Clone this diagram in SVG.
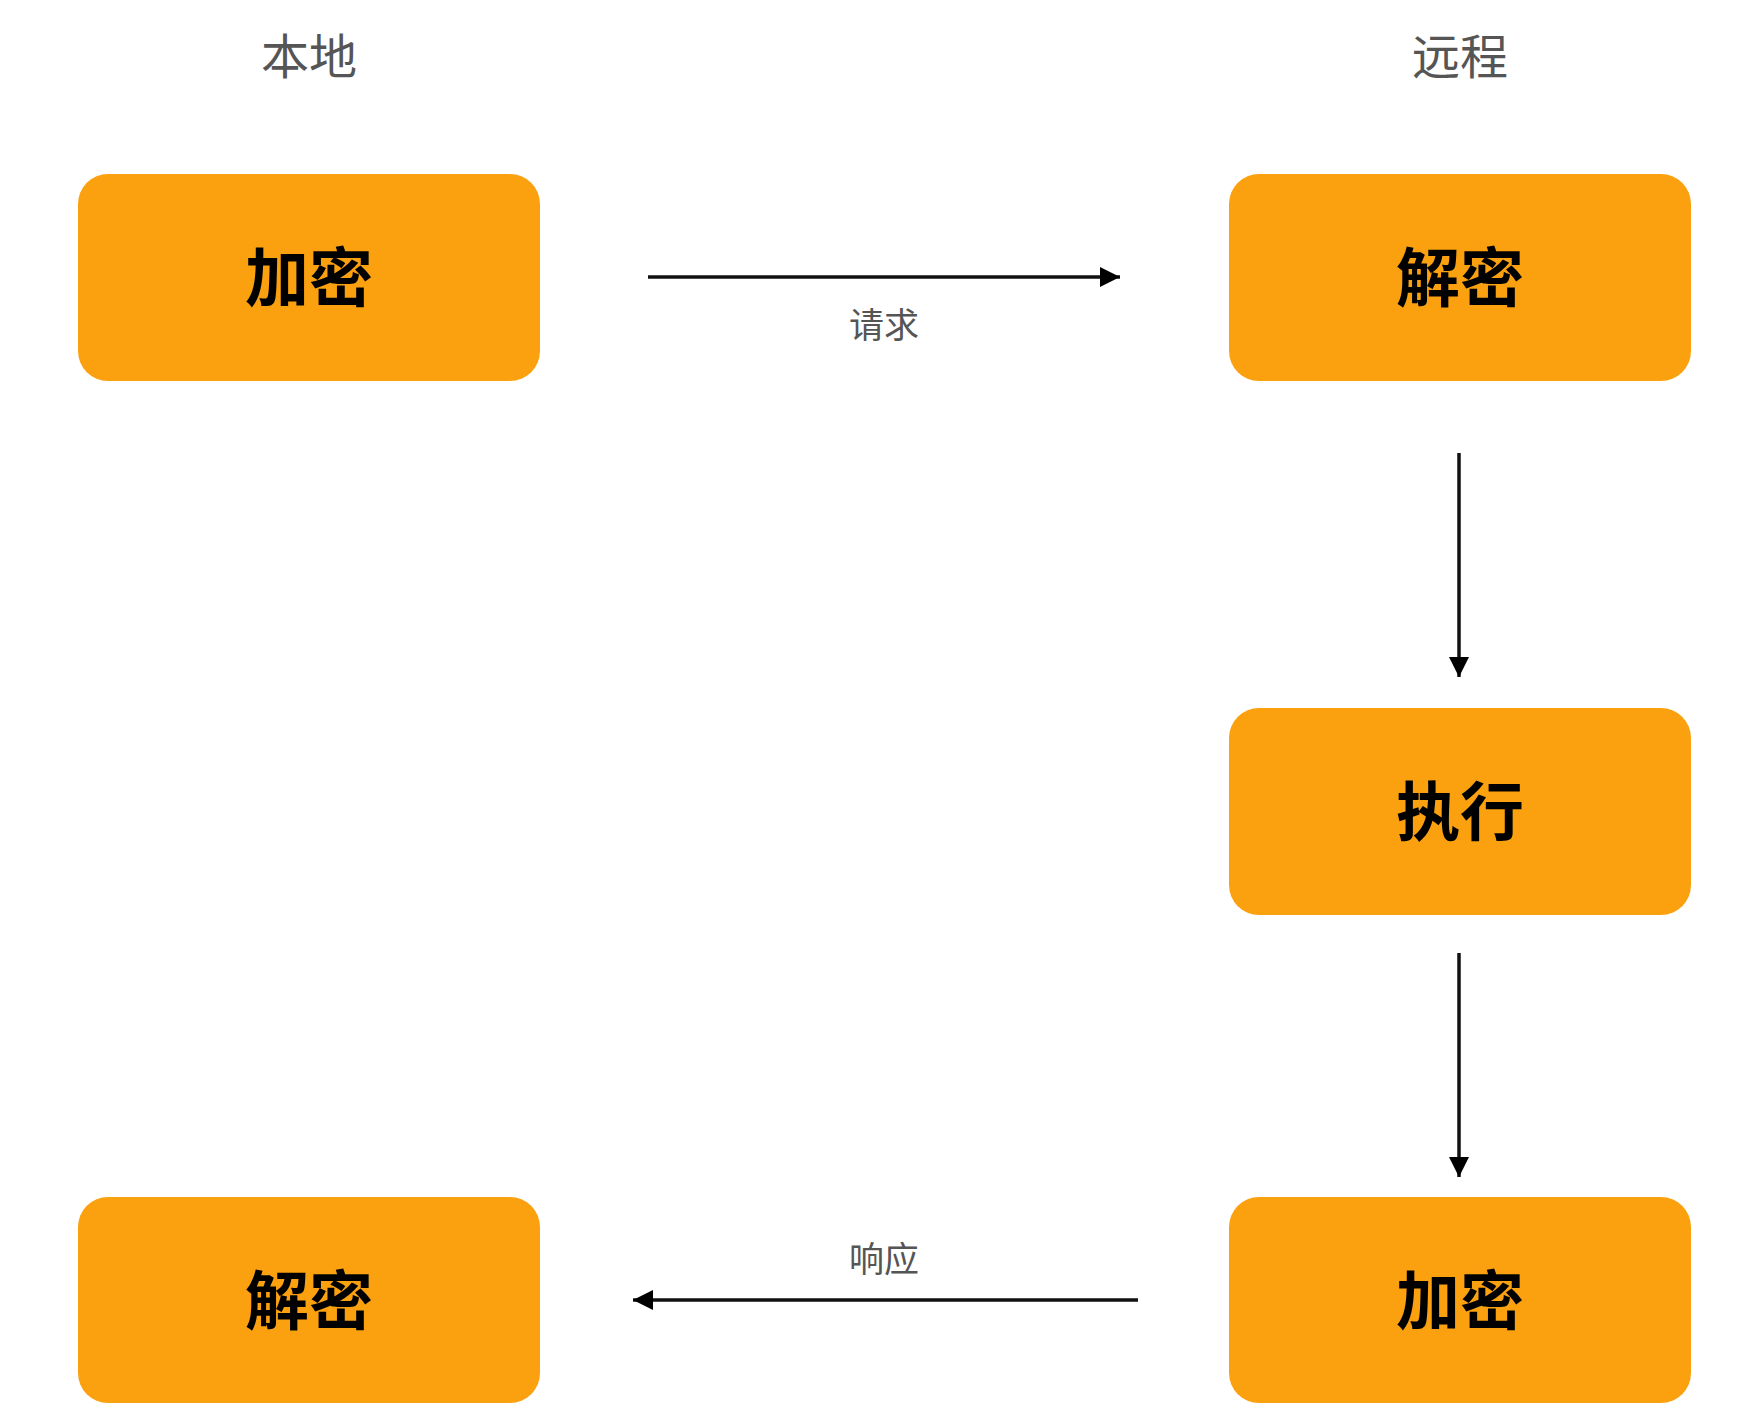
<svg xmlns="http://www.w3.org/2000/svg" width="1762" height="1422" viewBox="0 0 1762 1422">
<style>
.box{fill:#FBA10F;}
.lbl{font-family:"Noto Sans CJK SC","Noto Sans",sans-serif;font-weight:bold;font-size:64px;fill:#000;text-anchor:middle;}
.hdr{font-family:"Noto Sans CJK SC","Noto Sans",sans-serif;font-size:48px;fill:#555;text-anchor:middle;}
.edge{font-family:"Noto Sans CJK SC","Noto Sans",sans-serif;font-size:35px;fill:#555;text-anchor:middle;}
.conn{stroke:#111;stroke-width:3.5;fill:none;marker-end:url(#arr);}
</style>
<defs>
<marker id="arr" markerUnits="userSpaceOnUse" markerWidth="22" markerHeight="22" refX="20" refY="10" orient="auto">
<path d="M0,0 L20,10 L0,20 z" fill="#000"/>
</marker>
</defs>
<rect width="1762" height="1422" fill="#fff"/>
<text class="hdr" x="309" y="74">本地</text>
<text class="hdr" x="1460" y="74">远程</text>
<g id="local-encrypt">
<rect class="box" x="78" y="174" width="462" height="207" rx="30"/>
<text class="lbl" x="309" y="301">加密</text>
</g>
<g id="remote-decrypt">
<rect class="box" x="1229" y="174" width="462" height="207" rx="30"/>
<text class="lbl" x="1460" y="301">解密</text>
</g>
<g id="remote-execute">
<rect class="box" x="1229" y="708" width="462" height="207" rx="30"/>
<text class="lbl" x="1460" y="835">执行</text>
</g>
<g id="remote-encrypt">
<rect class="box" x="1229" y="1197" width="462" height="206" rx="30"/>
<text class="lbl" x="1460" y="1324">加密</text>
</g>
<g id="local-decrypt">
<rect class="box" x="78" y="1197" width="462" height="206" rx="30"/>
<text class="lbl" x="309" y="1324">解密</text>
</g>
<g id="connectors">
<line class="conn" x1="648" y1="277" x2="1120" y2="277"/>
<text class="edge" x="884" y="338">请求</text>
<line class="conn" x1="1459" y1="453" x2="1459" y2="677"/>
<line class="conn" x1="1459" y1="953" x2="1459" y2="1177"/>
<line class="conn" x1="1138" y1="1300" x2="633" y2="1300"/>
<text class="edge" x="884" y="1272">响应</text>
</g>
</svg>
